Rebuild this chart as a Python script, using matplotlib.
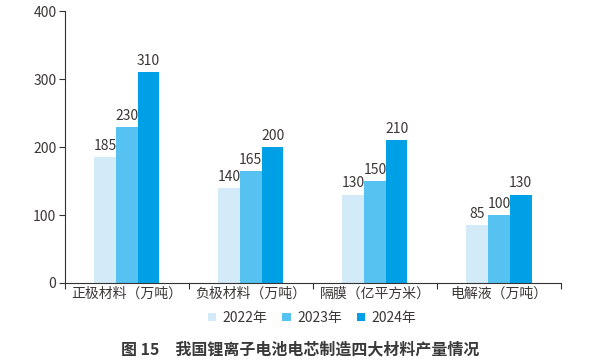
import matplotlib
matplotlib.use("Agg")
import matplotlib.pyplot as plt
import numpy as np

plt.rcParams['font.family'] = ['Noto Sans CJK SC', 'DejaVu Sans']

categories = ["正极材料（万吨）", "负极材料（万吨）", "隔膜（亿平方米）", "电解液（万吨）"]
series_names = ["2022年", "2023年", "2024年"]
v2022 = [185, 140, 130, 85]
v2023 = [230, 165, 150, 100]
v2024 = [310, 200, 210, 130]
colors = ["#d3eaf8", "#56c2f1", "#00a0e6"]
yticks = [0, 100, 200, 300, 400]
title = "图 15　我国锂离子电池电芯制造四大材料产量情况"

txt = "#3b3735"
fig = plt.figure(figsize=(6, 3.6), dpi=100)
ax = fig.add_axes([0.108, 0.214, 0.827, 0.755])

x = np.arange(len(categories))
w = 0.175
for i, (vals, c, name) in enumerate(zip([v2022, v2023, v2024], colors, series_names)):
    pos = x + (i - 1) * w
    bars = ax.bar(pos, vals, width=w, color=c, label=name, zorder=2)
    for b, v in zip(bars, vals):
        ax.annotate(str(v), (b.get_x() + b.get_width() / 2, v), xytext=(0, 3),
                    textcoords="offset points", ha="center", va="bottom",
                    fontsize=10, color=txt)

ax.set_xlim(-0.5, len(categories) - 0.5)
ax.set_ylim(0, 400)
ax.set_yticks(yticks)
ax.set_yticklabels([str(t) for t in yticks], fontsize=10, color=txt)
ax.set_xticks(np.arange(len(categories) + 1) - 0.5, minor=False)
ax.set_xticklabels([""] * (len(categories) + 1))
ax.set_xticks(x, minor=True)
ax.set_xticklabels(categories, minor=True, fontsize=10, color=txt)
ax.tick_params(axis="x", which="minor", length=0, pad=3)
ax.tick_params(axis="x", which="major", length=4, color="#333333", width=0.8)
ax.tick_params(axis="y", length=4, color="#333333", width=0.8, pad=2)
for s in ["top", "right"]:
    ax.spines[s].set_visible(False)
for s in ["left", "bottom"]:
    ax.spines[s].set_color("#333333")
    ax.spines[s].set_linewidth(0.8)

leg = fig.legend(loc="center", bbox_to_anchor=(0.52, 0.117), ncol=3, frameon=False,
                 fontsize=10, handlelength=0.6, handleheight=0.6, handletextpad=0.45,
                 columnspacing=1.1)
for t in leg.get_texts():
    t.set_color(txt)

fig.text(0.5, 0.03, title, ha="center", va="center", fontsize=11.5,
         fontweight="bold", color="#3a3a3a")

fig.savefig("out.png", dpi=100)
